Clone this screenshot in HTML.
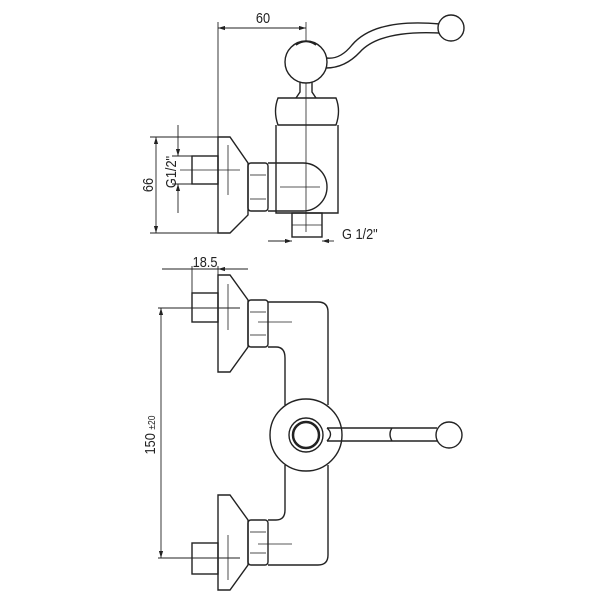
<!DOCTYPE html>
<html><head><style>html,body{margin:0;padding:0;background:#fff}svg{display:block}</style></head><body>
<svg width="600" height="600" viewBox="0 0 600 600" xmlns="http://www.w3.org/2000/svg" font-family="Liberation Sans, sans-serif" fill="none" stroke="#222" stroke-width="1.4">
<defs><marker id="a" viewBox="0 0 10 6" refX="10" refY="3" markerWidth="8" markerHeight="5" orient="auto-start-reverse"><path d="M0,0L10,3L0,6z" fill="#222" stroke="none"/></marker></defs>
<!-- TOP VIEW -->
<line x1="218" y1="22" x2="218" y2="137" stroke-width="0.9"/>
<line x1="306" y1="22" x2="306" y2="232" stroke-width="0.8"/>
<line x1="218" y1="28" x2="306" y2="28" stroke-width="0.9" marker-start="url(#a)" marker-end="url(#a)"/>
<text transform="translate(263,23) scale(0.85,1)" font-size="15" fill="#222" stroke="none" text-anchor="middle">60</text>
<path d="M218,137H230L248,163V215L230,233H218Z"/>
<rect x="192" y="156" width="26" height="28"/>
<line x1="180" y1="170" x2="240" y2="170" stroke-width="0.8"/>
<line x1="228" y1="145" x2="228" y2="195" stroke-width="0.8"/>
<rect x="248" y="163" width="20" height="48" rx="3"/>
<line x1="250" y1="175" x2="266" y2="175" stroke-width="0.8"/><line x1="250" y1="199" x2="266" y2="199" stroke-width="0.8"/>
<path d="M276,125V213H338V125"/>
<path d="M278,98H336Q341,111 336,125H278Q273,111 278,98Z"/>
<path d="M268,163H303A24,24 0 0 1 303,211H268"/>
<line x1="280" y1="187" x2="320" y2="187" stroke-width="0.8"/>
<rect x="292" y="213" width="30" height="24"/>
<line x1="292" y1="225" x2="322" y2="225" stroke-width="0.8"/>
<path d="M296,98L300,92V78H312V92L316,98"/>
<circle cx="306" cy="62" r="21" fill="#fff"/>
<path d="M296,45Q306,38 316,45"/>
<path d="M326,58Q340,60 352,45Q375,18 440,24 M326,68Q345,68 360,52Q380,30 440,33"/>
<circle cx="451" cy="28" r="13" fill="#fff"/>
<line x1="150" y1="137" x2="218" y2="137" stroke-width="0.9"/>
<line x1="150" y1="233" x2="218" y2="233" stroke-width="0.9"/>
<line x1="156" y1="137" x2="156" y2="233" stroke-width="0.9" marker-start="url(#a)" marker-end="url(#a)"/>
<text transform="translate(153,185) rotate(-90) scale(0.85,1)" font-size="15" fill="#222" stroke="none" text-anchor="middle">66</text>
<line x1="172" y1="156" x2="192" y2="156" stroke-width="0.9"/>
<line x1="172" y1="184" x2="192" y2="184" stroke-width="0.9"/>
<line x1="178" y1="125" x2="178" y2="156" stroke-width="0.9" marker-end="url(#a)"/>
<line x1="178" y1="213" x2="178" y2="184" stroke-width="0.9" marker-end="url(#a)"/>
<text transform="translate(176,172) rotate(-90) scale(0.85,1)" font-size="15" fill="#222" stroke="none" text-anchor="middle">G1/2"</text>
<line x1="268" y1="241" x2="292" y2="241" stroke-width="0.9" marker-end="url(#a)"/>
<line x1="334" y1="241" x2="322" y2="241" stroke-width="0.9" marker-end="url(#a)"/>
<text transform="translate(342,239) scale(0.85,1)" font-size="15" fill="#222" stroke="none">G 1/2"</text>
<!-- BOTTOM VIEW -->
<line x1="162" y1="269" x2="248" y2="269" stroke-width="0.9"/>
<path d="M180,269L192,269M230,269L218,269" stroke-width="0.9" marker-end="url(#a)"/>
<line x1="192" y1="266" x2="192" y2="293" stroke-width="0.9"/>
<line x1="218" y1="266" x2="218" y2="276" stroke-width="0.9"/>
<text transform="translate(205,267) scale(0.85,1)" font-size="15" fill="#222" stroke="none" text-anchor="middle">18.5</text>
<path d="M218,275H230L248,300V347L230,372H218Z"/>
<rect x="192" y="293" width="26" height="29"/>
<line x1="158" y1="308" x2="240" y2="308" stroke-width="0.9"/>
<line x1="228" y1="284" x2="228" y2="330" stroke-width="0.8"/>
<rect x="248" y="300" width="20" height="47" rx="3"/>
<line x1="250" y1="312" x2="266" y2="312" stroke-width="0.8"/><line x1="250" y1="335" x2="266" y2="335" stroke-width="0.8"/>
<line x1="258" y1="322" x2="292" y2="322" stroke-width="0.8"/>
<path d="M268,302H318Q328,302 328,312V405 M328,465V555Q328,565 318,565H268"/>
<path d="M268,347H276Q285,347 285,358V405 M285,465V510Q285,520 276,520H268"/>
<path d="M218,495H230L248,520V565L230,590H218Z"/>
<rect x="192" y="543" width="26" height="31"/>
<line x1="158" y1="558" x2="240" y2="558" stroke-width="0.9"/>
<line x1="228" y1="535" x2="228" y2="580" stroke-width="0.8"/>
<rect x="248" y="520" width="20" height="45" rx="3"/>
<line x1="250" y1="532" x2="266" y2="532" stroke-width="0.8"/><line x1="250" y1="553" x2="266" y2="553" stroke-width="0.8"/>
<line x1="258" y1="544" x2="292" y2="544" stroke-width="0.8"/>
<circle cx="306" cy="435" r="36" fill="#fff"/>
<circle cx="306" cy="435" r="17"/>
<circle cx="306" cy="435" r="13" stroke-width="2.5"/>
<path d="M327,428H437M327,441H437M327,428Q334,434 327,441 M392,428Q388,434 392,441"/>
<circle cx="449" cy="435" r="13" fill="#fff"/>
<line x1="161" y1="308" x2="161" y2="558" stroke-width="0.9" marker-start="url(#a)" marker-end="url(#a)"/>
<text transform="translate(155,435) rotate(-90) scale(0.85,1)" font-size="15" fill="#222" stroke="none" text-anchor="middle">150 <tspan font-size="10">±20</tspan></text>
</svg>
</body></html>
